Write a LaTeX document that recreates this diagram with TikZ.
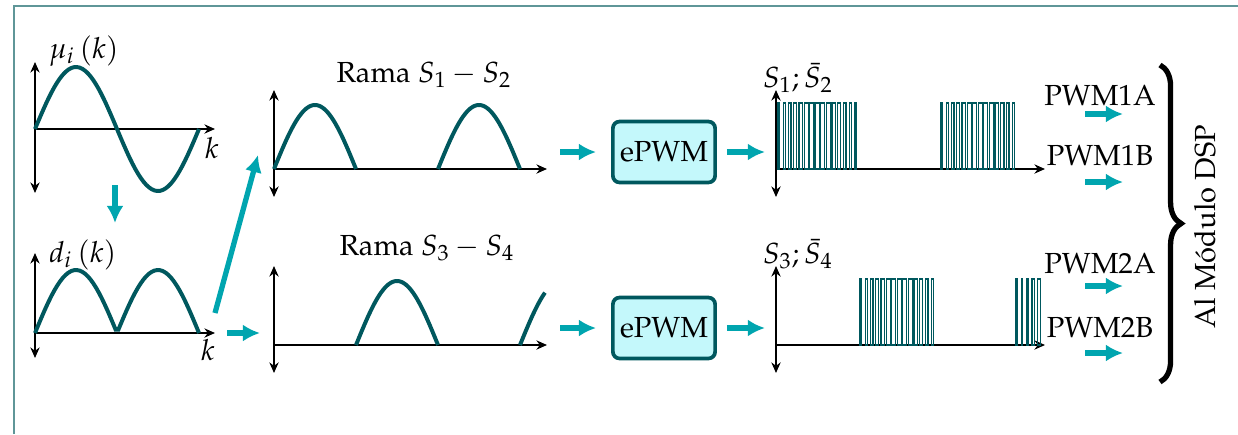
\documentclass[tikz,border=0pt]{standalone}
\usepackage[T1]{fontenc}
\usepackage{mathpazo}
\usepackage{tikz}
\usetikzlibrary{arrows.meta, calc, decorations.pathreplacing}

\definecolor{verdeosc}{RGB}{0,88,94}
\definecolor{turquesa}{RGB}{0,165,175}
\definecolor{celeste}{RGB}{196,248,251}
\definecolor{marco}{RGB}{95,150,152}

\begin{document}
\begin{tikzpicture}[x=0.0133cm, y=0.0133cm, font=\fontsize{11}{13}\selectfont,
    eje/.style={line width=0.9pt, black},
    ejey/.style={eje, {Stealth[length=4pt,width=3.5pt]}-{Stealth[length=4pt,width=3.5pt]}},
    ejex/.style={eje, -{Stealth[length=4pt,width=3.5pt]}},
    curva/.style={line width=1.5pt, verdeosc, samples=60},
    pulso/.style={line width=0.5pt, verdeosc},
    flujo/.style={line width=2pt, turquesa, -{Latex[length=6.5pt,width=6.5pt]}},
    bloque/.style={draw=verdeosc, line width=1.4pt, fill=celeste, rounded corners=2.5pt,
      minimum width=1.36cm, minimum height=0.81cm, inner sep=0pt}]
          % --- 1. Marco y periodo ---
          \useasboundingbox (0,0) rectangle (1238,434);
          \draw[marco, line width=0.8pt] (14,0) -- (14,428) -- (1238,428);
          \def\T{164}
          \def\tp{5.5}

          % --- 2. Moduladora mu_i(k) ---
          \begin{scope}[shift={(35,305)}]
            \draw[ejey] (0,-64) -- (0,67);
            \draw[ejex] (0,0) -- (180,0);
            \draw[curva, domain=0:\T] plot (\x, {62*sin(\x/\T*360)});
            \node[anchor=base west] (mu) at (5,71) {$\mu_i\left(k\right)$};
            \node (k1) at (177,-19) {$k$};
          \end{scope}
          \coordinate (bajA) at (115,249);
          \coordinate (bajB) at (115,211);
          \draw[flujo] (bajA) -- (bajB);

          % --- 3. Valor absoluto d_i(k) ---
          \begin{scope}[shift={(35,101)}]
            \draw[ejey] (0,-25) -- (0,80);
            \draw[ejex] (0,0) -- (180,0);
            \draw[curva, domain=0:\T] plot (\x, {63*abs(sin(\x/\T*360))});
            \node[anchor=base west] (di) at (5,71) {$d_i\left(k\right)$};
            \node (k2) at (173,-17) {$k$};
          \end{scope}
          \coordinate (diagA) at (215,121);
          \coordinate (diagB) at (258,279);
          \coordinate (horA) at (227,101);
          \coordinate (horB) at (260,101);
          \draw[flujo] (diagA) -- (diagB);
          \draw[flujo] (horA) -- (horB);

          % --- 4. Rama S1 - S2 ---
          \begin{scope}[shift={(274,265)}]
            \draw[ejey] (0,-28) -- (0,79);
            \draw[ejex] (0,0) -- (273,0);
            \draw[curva, domain=0:82] plot (\x, {64*sin(\x/\T*360)});
            \draw[curva, domain=164:246] plot (\x, {64*sin(\x/\T*360)});
            \node[anchor=base] (rama1) at (150,87) {Rama $S_1-S_2$};
          \end{scope}

          % --- 5. Rama S3 - S4 ---
          \begin{scope}[shift={(274,89)}]
            \draw[ejey] (0,-28) -- (0,79);
            \draw[ejex] (0,0) -- (273,0);
            \draw[curva, domain=82:164] plot (\x, {-64*sin(\x/\T*360)});
            \draw[curva, domain=246:271] plot (\x, {-64*sin(\x/\T*360)});
            \node[anchor=base] (rama2) at (153,90) {Rama $S_3-S_4$};
          \end{scope}

          % --- 6. Bloques ePWM ---
          \node[bloque] (epwm1) at (664,282) {ePWM};
          \node[bloque] (epwm2) at (664,106) {ePWM};
          \foreach \b in {epwm1,epwm2} {
            \draw[flujo] ($(\b.west)+(-51,0)$) -- ($(\b.west)+(-15,0)$);
            \draw[flujo] ($(\b.east)+(10,0)$) -- ($(\b.east)+(48,0)$);
          }

          % --- 7. Pulsos S1; S2 ---
          \begin{scope}[shift={(776,265)}]
            \draw[ejey] (0,-28) -- (0,79);
            \draw[ejex] (0,0) -- (269,0);
            \foreach \a/\b in {0/83,163/245} {
              \pgfmathtruncatemacro\nn{(\b-\a)/\tp-1}
              \foreach \n in {0,...,\nn} {
                \pgfmathsetmacro\xc{\a+\n*\tp+\tp/2}
                \pgfmathsetmacro\w{1+3.2*abs(sin(\xc/\T*360))}
                \draw[pulso] (\xc-\w/2,0) rectangle (\xc+\w/2,66);
              }
            }
            \node[anchor=base] (s12) at (22,82) {$S_1;\bar{S}_2$};
          \end{scope}

          % --- 8. Pulsos S3; S4 ---
          \begin{scope}[shift={(776,89)}]
            \draw[ejey] (0,-28) -- (0,79);
            \draw[ejex] (0,0) -- (269,0);
            \foreach \a/\b in {82/164,238/267} {
              \pgfmathtruncatemacro\nn{(\b-\a)/\tp-1}
              \foreach \n in {0,...,\nn} {
                \pgfmathsetmacro\xc{\a+\n*\tp+\tp/2}
                \pgfmathsetmacro\w{1+3.2*abs(sin(\xc/\T*360))}
                \draw[pulso] (\xc-\w/2,0) rectangle (\xc+\w/2,66);
              }
            }
            \node[anchor=base] (s34) at (22,82) {$S_3;\bar{S}_4$};
          \end{scope}

          % --- 9. Salidas PWM y llave ---
          \foreach \nom/\y/\ya in {PWM1A/339/320, PWM1B/279/252, PWM2A/171/148, PWM2B/107/81} {
            \node (\nom) at (1100,\y) {\nom};
            \coordinate (f\nom) at (1085,\ya);
            \draw[flujo] (f\nom) -- ++(38,0);
          }
          \coordinate (llaveA) at (1160,369);
          \coordinate (llaveB) at (1160,52);
          \draw[line width=2pt, decorate, decoration={brace, amplitude=8pt}] (llaveA) -- (llaveB);
          \node[rotate=90] (dsp) at (1205,207) {Al M\'odulo DSP};

      \end{tikzpicture}
\end{document}
